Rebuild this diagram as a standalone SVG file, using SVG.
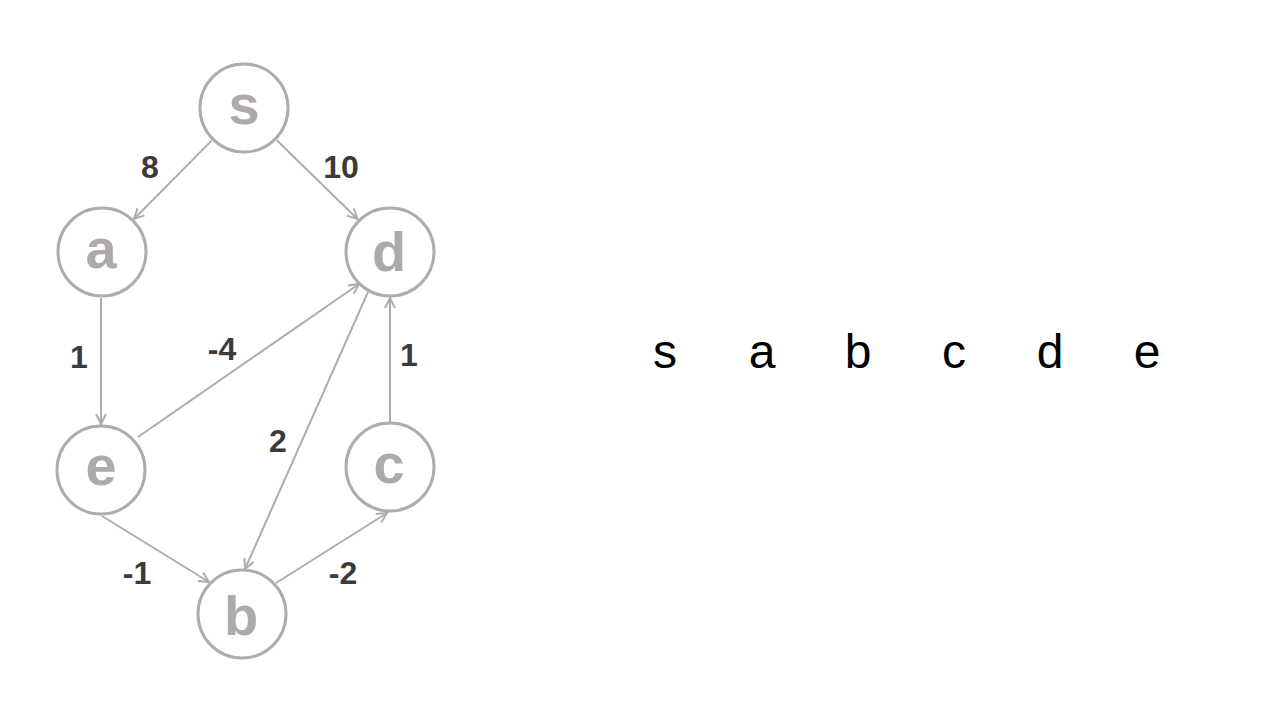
<svg xmlns="http://www.w3.org/2000/svg" width="1280" height="720" viewBox="0 0 1280 720">
<style>
.node circle{fill:#fff;stroke:#b0acab;stroke-width:3}
.node text{font-family:"Liberation Sans",Arial,sans-serif;font-weight:bold;font-size:56px;fill:#aeaaaa;text-anchor:middle}
.edge{stroke:#b0acab;stroke-width:2;fill:none;marker-end:url(#arr)}
.lbl{font-family:"Liberation Sans",Arial,sans-serif;font-weight:bold;font-size:32px;fill:#3b3b3b;text-anchor:middle}
.seq{font-family:"Liberation Sans",Arial,sans-serif;font-size:48px;fill:#000;text-anchor:middle}
</style>
<defs>
<marker id="arr" markerUnits="userSpaceOnUse" markerWidth="14" markerHeight="14" viewBox="0 0 14 14" refX="12" refY="7" orient="auto">
<path d="M2,2 L12,7 L2,12" fill="none" stroke="#b0acab" stroke-width="2"/>
</marker>
</defs>
<rect width="1280" height="720" fill="#fff"/>
<g id="connectors">
<line class="edge" x1="211.6" y1="140.6" x2="134" y2="219"/>
<line class="edge" x1="276.8" y1="140.3" x2="357.5" y2="219"/>
<line class="edge" x1="101" y1="298" x2="101" y2="424"/>
<line class="edge" x1="138" y1="437" x2="359" y2="284"/>
<line class="edge" x1="368" y1="292" x2="245" y2="569"/>
<line class="edge" x1="390" y1="422" x2="390" y2="298"/>
<line class="edge" x1="102" y1="516" x2="209" y2="582"/>
<line class="edge" x1="276" y1="583" x2="387" y2="513"/>
</g>
<g id="labels">
<text class="lbl" x="150" y="178">8</text>
<text class="lbl" x="341" y="178">10</text>
<text class="lbl" x="79" y="368">1</text>
<text class="lbl" x="222" y="360">-4</text>
<text class="lbl" x="409" y="366">1</text>
<text class="lbl" x="278" y="452">2</text>
<text class="lbl" x="137" y="584">-1</text>
<text class="lbl" x="343" y="584">-2</text>
</g>
<g id="node-s" class="node"><circle cx="244" cy="108" r="44"/><text x="244" y="124">s</text></g>
<g id="node-a" class="node"><circle cx="102" cy="252" r="44"/><text x="101" y="268">a</text></g>
<g id="node-d" class="node"><circle cx="390" cy="252" r="44"/><text x="389" y="271">d</text></g>
<g id="node-e" class="node"><circle cx="101" cy="470" r="44"/><text x="101" y="485">e</text></g>
<g id="node-c" class="node"><circle cx="390" cy="467" r="44"/><text x="389" y="483">c</text></g>
<g id="node-b" class="node"><circle cx="242" cy="614" r="44"/><text x="241" y="635">b</text></g>
<g id="sequence">
<text class="seq" x="665" y="368">s</text>
<text class="seq" x="762" y="368">a</text>
<text class="seq" x="858" y="368">b</text>
<text class="seq" x="954" y="368">c</text>
<text class="seq" x="1050" y="368">d</text>
<text class="seq" x="1147" y="368">e</text>
</g>
</svg>
